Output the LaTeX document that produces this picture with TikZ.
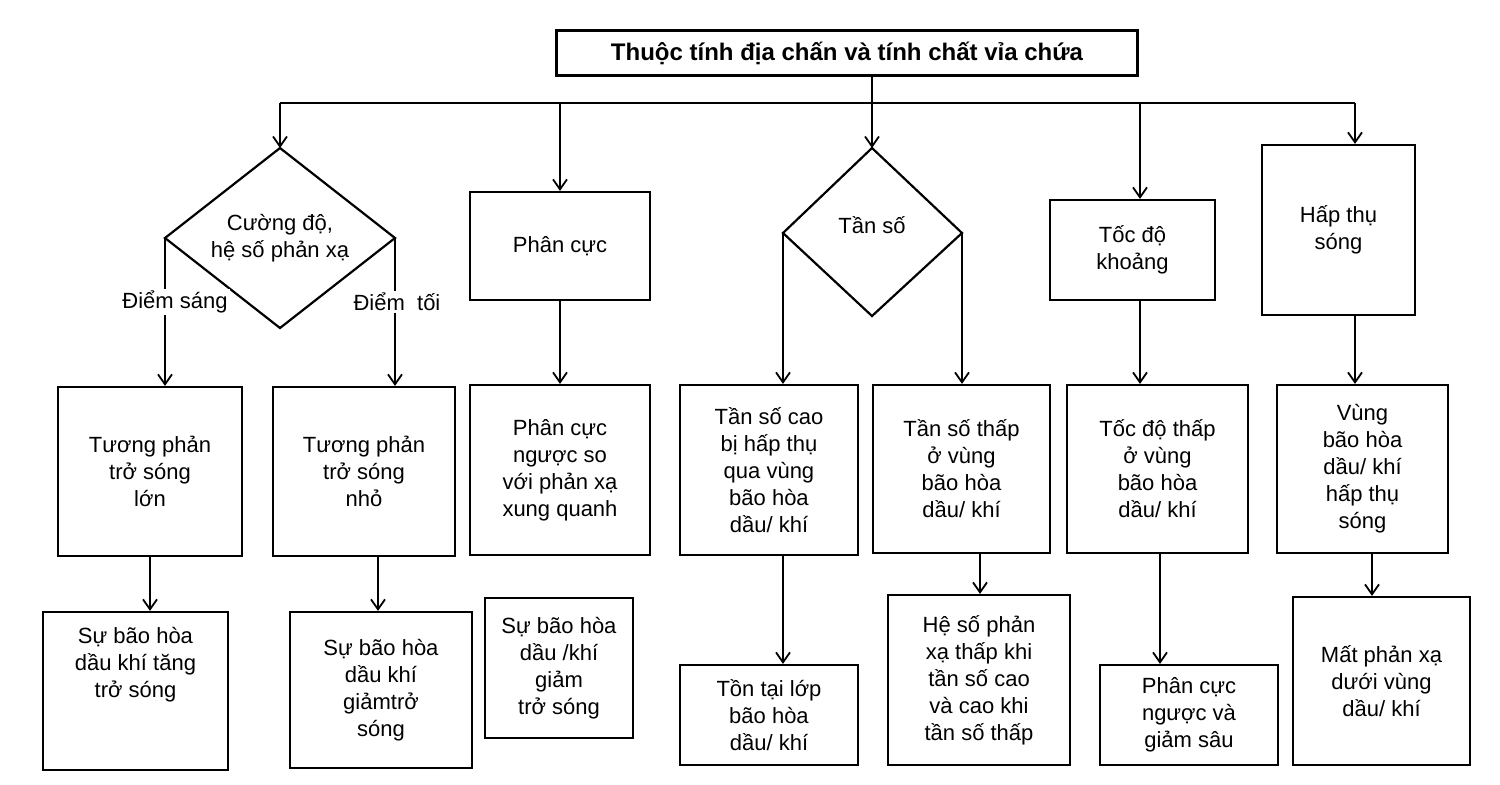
\documentclass[tikz,border=0pt]{standalone}
\usepackage{fontspec}
\setmainfont{Liberation Sans}
\usetikzlibrary{shapes.geometric,arrows.meta}
\begin{document}
\begin{tikzpicture}[x=0.5pt,y=-0.5pt,
  bx/.style={draw,line width=1.1pt,align=center,font=\fontsize{11}{13.5}\selectfont},
  ar/.style={draw,line width=0.9pt,-{Straight Barb[length=5pt,width=7pt]}},
  ln/.style={draw,line width=0.9pt},
  lb/.style={fill=white,inner sep=1pt,font=\fontsize{11}{13}\selectfont}]
\useasboundingbox (0,0) rectangle (1500,784);
\newcommand\bxr[6]{\node[bx,minimum width={(#3-#2)*0.5pt},minimum height={(#5-#4)*0.5pt}] (#1) at ({(#2+#3)/2},{(#4+#5)/2}) {#6};}
\node[draw,line width=1.2pt,font=\bfseries\fontsize{12}{14}\selectfont,minimum width=290.5pt,minimum height=22.5pt] (t) at (847,53) {Thuộc tính địa chấn và tính chất vỉa chứa};
\coordinate (bus) at (872,103);
\draw[ln] (t.south -| bus) -- (bus);
\draw[ln] (280,103) -- (1355,103);
% diamonds
\draw[line width=1.1pt] (165,238) -- (280,148) -- (395,238) -- (280,328) -- cycle;
\node[align=center,font=\fontsize{11}{13.5}\selectfont] (d1) at (280,238) {Cường độ,\\hệ số phản xạ};
\coordinate (d1t) at (280,148);
\draw[line width=1.1pt] (783,233) -- (872,148) -- (962,233) -- (872,316) -- cycle;
\node[font=\fontsize{11}{13.5}\selectfont] (d2) at (872,225) {Tần số};
\coordinate (d2t) at (872,148);
% boxes
\bxr{b1}{58}{242}{387}{556}{Tương phản\\trở sóng\\lớn}
\bxr{b2}{273}{455}{387}{556}{Tương phản\\trở sóng\\nhỏ}
\bxr{c1}{43}{228}{612}{770}{Sự bão hòa\\dầu khí tăng\\trở sóng\\[1.4em]}
\bxr{c2}{290}{472}{612}{768}{Sự bão hòa\\dầu khí\\giảmtrở\\sóng}
\bxr{p1}{470}{650}{192}{300}{Phân cực}
\bxr{p2}{470}{650}{385}{555}{Phân cực\\ngược so\\với phản xạ\\xung quanh}
\bxr{p3}{485}{633}{598}{738}{Sự bão hòa\\dầu /khí\\giảm\\trở sóng}
\bxr{f1}{680}{858}{385}{555}{Tần số cao\\bị hấp thụ\\qua vùng\\bão hòa\\dầu/ khí}
\bxr{f2}{873}{1050}{385}{553}{Tần số thấp\\ở vùng\\bão hòa\\dầu/ khí}
\bxr{g1}{680}{858}{665}{765}{Tồn tại lớp\\bão hòa\\dầu/ khí}
\bxr{g2}{888}{1070}{595}{765}{Hệ số phản\\xạ thấp khi\\tần số cao\\và cao khi\\tần số thấp}
\bxr{v1}{1050}{1215}{200}{300}{Tốc độ\\khoảng}
\bxr{v2}{1067}{1248}{385}{553}{Tốc độ thấp\\ở vùng\\bão hòa\\dầu/ khí}
\bxr{v3}{1100}{1278}{665}{765}{Phân cực\\ngược và\\giảm sâu}
\bxr{h1}{1262}{1415}{145}{315}{Hấp thụ\\sóng}
\bxr{h2}{1277}{1448}{385}{553}{Vùng\\bão hòa\\dầu/ khí\\hấp thụ\\sóng}
\bxr{h3}{1293}{1470}{597}{765}{Mất phản xạ\\dưới vùng\\dầu/ khí}
% top arrows
\draw[ar] (280,103) -- (d1t);
\draw[ar] (560,103) -- (p1.north);
\draw[ar] (bus) -- (d2t);
\draw[ar] (1140,103) -- (v1.north -| 1140,0);
\draw[ar] (1355,103) -- (h1.north -| 1355,0);
% diamond 1 branches
\draw[ar] (165,238) -- (b1.north -| 165,0);
\draw[ar] (395,238) -- (b2.north -| 395,0);
\node[lb] (ls) at (175,302) {Điểm sáng};
\node[lb] (ld) at (397,302) {Điểm\ \ tối};
% diamond 2 branches
\draw[ar] (783,233) -- (f1.north -| 783,0);
\draw[ar] (962,233) -- (f2.north -| 962,0);
% vertical arrows
\draw[ar] (b1.south -| 150,0) -- (c1.north -| 150,0);
\draw[ar] (b2.south -| 378,0) -- (c2.north -| 378,0);
\draw[ar] (p1.south) -- (p2.north);
\draw[ar] (f1.south -| 783,0) -- (g1.north -| 783,0);
\draw[ar] (f2.south -| 980,0) -- (g2.north -| 980,0);
\draw[ar] (v1.south -| 1140,0) -- (v2.north -| 1140,0);
\draw[ar] (v2.south -| 1160,0) -- (v3.north -| 1160,0);
\draw[ar] (h1.south -| 1355,0) -- (h2.north -| 1355,0);
\draw[ar] (h2.south -| 1372,0) -- (h3.north -| 1372,0);
\end{tikzpicture}
\end{document}
